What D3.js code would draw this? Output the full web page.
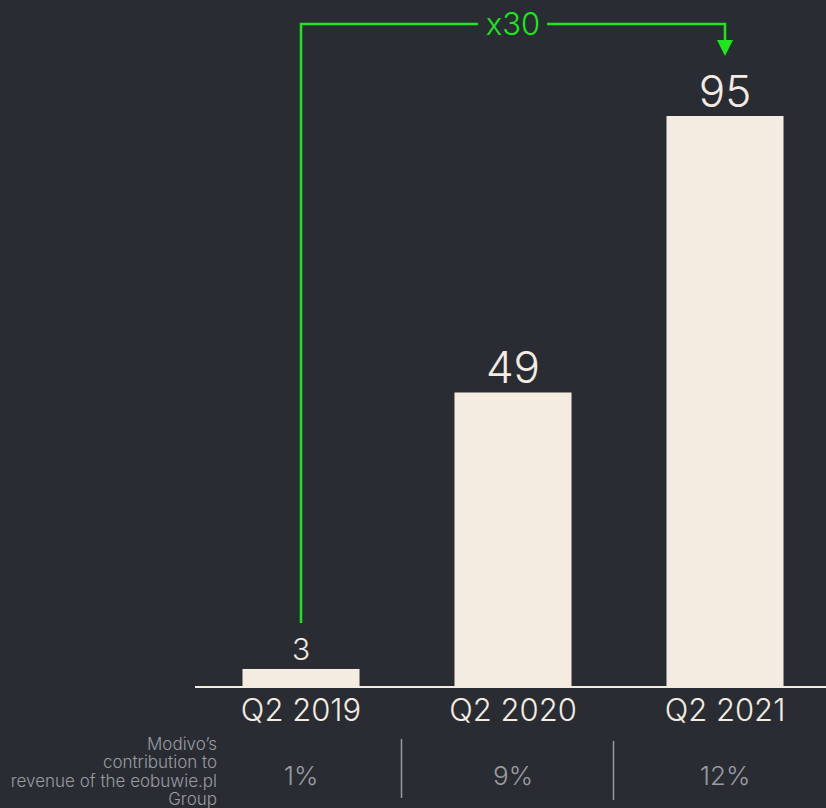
<!DOCTYPE html>
<html>
<head>
<meta charset="utf-8">
<script src="https://cdn.jsdelivr.net/npm/d3@7"></script>
<style>
  html, body { margin: 0; padding: 0; background: #292c33; }
  svg { display: block; font-family: "Inter", "Lato", sans-serif; }
</style>
</head>
<body>
<svg id="chart" width="826" height="808"></svg>
<script>
// Modivo revenue by quarter
const categories = ["Q2 2019", "Q2 2020", "Q2 2021"];
const revenue = [3, 49, 95];
const contribution = ["1%", "9%", "12%"];
const growthLabel = "x30";
const rowLabel = ["Modivo\u2019s", "contribution to", "revenue of the eobuwie.pl", "Group"];

const W = 826, H = 808;
const bg = "#292c33", barColor = "#f4ece0", green = "#1ee61e", grey = "#9a9ca0";

const svg = d3.select("#chart");
svg.append("rect").attr("width", W).attr("height", H).attr("fill", bg);

const x = d3.scaleBand().domain(categories).range([195, 831]).paddingInner(0.448).paddingOuter(0.224);
const y = d3.scaleLinear().domain([0, 95]).range([687, 116]);

// bars
svg.selectAll("rect.bar").data(revenue).join("rect")
  .attr("class", "bar")
  .attr("x", (d, i) => x(categories[i]))
  .attr("width", x.bandwidth())
  .attr("y", d => y(d))
  .attr("height", d => y(0) - y(d))
  .attr("fill", barColor);

// baseline axis with category labels
const axis = d3.axisBottom(x).tickSize(0).tickPadding(11);
const gx = svg.append("g").attr("transform", `translate(0,${y(0)})`).call(axis);
gx.select(".domain").attr("d", `M195,0H826`).attr("stroke", barColor).attr("stroke-width", 2);
gx.selectAll(".tick text")
  .attr("font-size", 31).attr("font-weight", 300).attr("fill", barColor)
  .attr("font-family", "Inter, sans-serif").attr("dy", "0.73em");

// value labels
svg.selectAll("text.val").data(revenue).join("text")
  .attr("class", "val")
  .attr("x", (d, i) => x(categories[i]) + x.bandwidth() / 2)
  .attr("y", d => y(d) - 9)
  .attr("text-anchor", "middle")
  .attr("font-size", d => d < 10 ? 30 : 44)
  .attr("font-weight", 300)
  .attr("fill", barColor)
  .text(d => d);

// growth annotation
const x0 = x(categories[0]) + x.bandwidth() / 2;
const x2 = x(categories[2]) + x.bandwidth() / 2;
const topY = 24;
const midX = (x0 + x2) / 2;
const line = svg.append("g").attr("fill", "none").attr("stroke", green).attr("stroke-width", 2.5);
line.append("path").attr("d", `M${x0},${y(revenue[0]) - 46}V${topY}H${midX - 35}`);
line.append("path").attr("d", `M${midX + 34},${topY}H${x2}V${42}`);
svg.append("path")
  .attr("d", `M${x2 - 8},${40}L${x2 + 8},${40}L${x2},${56}Z`)
  .attr("fill", green);
svg.append("text")
  .attr("x", midX).attr("y", topY).attr("dy", "0.37em")
  .attr("text-anchor", "middle").attr("font-size", 31).attr("font-weight", 300)
  .attr("fill", green).text(growthLabel);

// contribution row
const rowText = svg.append("text")
  .attr("text-anchor", "end").attr("font-size", 17).attr("font-weight", 300).attr("fill", grey);
rowLabel.forEach((t, i) => {
  rowText.append("tspan").attr("x", 217).attr("y", 750 + i * 18.4).text(t);
});
svg.selectAll("text.pct").data(contribution).join("text")
  .attr("class", "pct")
  .attr("x", (d, i) => x(categories[i]) + x.bandwidth() / 2)
  .attr("y", 785)
  .attr("text-anchor", "middle").attr("font-size", 26).attr("font-weight", 300)
  .attr("fill", grey).text(d => d);
[1, 2].forEach(i => {
  const xd = x(categories[i]) - x.step() * 0.25;
  svg.append("line").attr("x1", xd).attr("x2", xd).attr("y1", 739 + (i - 1) * 2).attr("y2", 798 + (i - 1) * 2)
    .attr("stroke", grey).attr("stroke-width", 1.5);
});
</script>
</body>
</html>
